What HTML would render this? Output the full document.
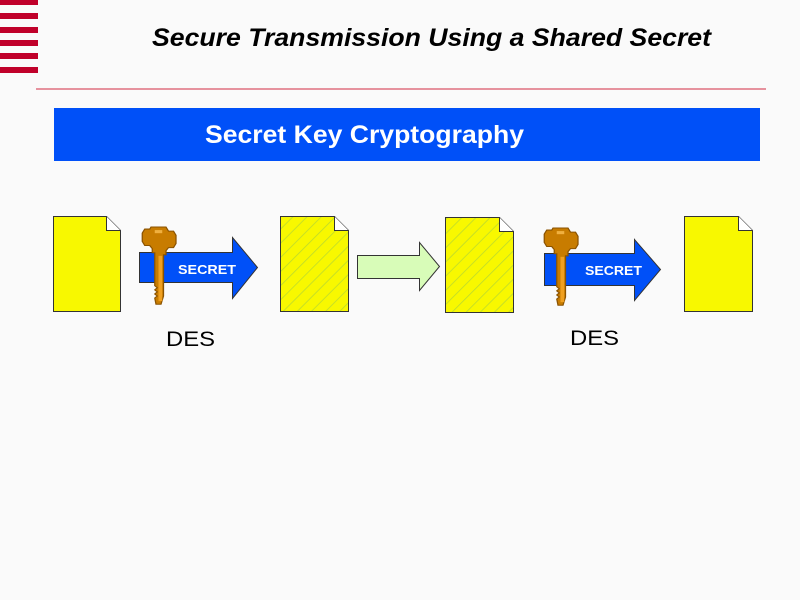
<!DOCTYPE html>
<html><head><style>
body{margin:0;width:800px;height:600px;background:#fafafa;position:relative;overflow:hidden;font-family:"Liberation Sans",sans-serif}
</style></head><body>
<svg width="800" height="600" style="position:absolute;left:0;top:0">
<defs>
<pattern id="h" width="10" height="10" patternUnits="userSpaceOnUse" patternTransform="rotate(45)">
<rect width="10" height="10" fill="#f8f800"/><line x1="0" y1="0" x2="0" y2="10" stroke="#b8d830" stroke-width="1.5"/>
</pattern>
<g id="key">
<path d="M8 0h12l2 4h4l2 4v8l-2 4h-4l-2 3v4h-2v40l-2 8h-4l-1-6 2-2-2-2 2-2-2-2 2-2-2-2v-32h-2v-4l-2-3h-4l-2-4v-8l2-4h4z" fill="#c87c00" stroke="#8a5200" stroke-width="1"/>
<rect x="11" y="3" width="6" height="3" fill="#f0b040"/>
<rect x="14" y="28" width="3" height="44" fill="#f0a020"/>
</g>
</defs>
<g fill="#c0002a">
<rect x="0" y="0" width="38" height="5"/><rect x="0" y="13" width="38" height="6"/><rect x="0" y="27" width="38" height="6"/><rect x="0" y="40" width="38" height="6"/><rect x="0" y="53" width="38" height="6"/><rect x="0" y="67" width="38" height="6"/>
</g>
<text x="152" y="46" textLength="559" lengthAdjust="spacingAndGlyphs" font-size="25" font-weight="bold" font-style="italic" fill="#000">Secure Transmission Using a Shared Secret</text>
<line x1="36" y1="89" x2="766" y2="89" stroke="#e07080" stroke-width="1.5"/>
<rect x="54" y="108" width="706" height="53" fill="#0050f8"/>
<text x="205" y="143" textLength="319" lengthAdjust="spacingAndGlyphs" font-size="25" font-weight="bold" fill="#fff">Secret Key Cryptography</text>
<g stroke="#333" stroke-width="1">
<path d="M53.5 216.5h53l14 14v81h-67z" fill="#f8f800"/><path d="M106.5 216.5v14h14" fill="#fff"/>
<path d="M280.5 216.5h54l14 14v81h-68z" fill="url(#h)"/><path d="M334.5 216.5v14h14" fill="#fff"/>
<path d="M445.5 217.5h54l14 14v81h-68z" fill="url(#h)"/><path d="M499.5 217.5v14h14" fill="#fff"/>
<path d="M684.5 216.5h54l14 14v81h-68z" fill="#f8f800"/><path d="M738.5 216.5v14h14" fill="#fff"/>
<path d="M357.5 255.5h62v-13l20 24-20 24v-12h-62z" fill="#d8fcb8"/>
<path d="M139.5 252.5h93v-15l25 30-25 31v-16h-93z" fill="#0050f8"/>
<path d="M544.5 253.5h90v-14l26 30-26 31v-15h-90z" fill="#0050f8"/>
</g>
<text x="178" y="274" textLength="58" lengthAdjust="spacingAndGlyphs" font-size="13" font-weight="bold" fill="#fff">SECRET</text>
<text x="585" y="275" textLength="57" lengthAdjust="spacingAndGlyphs" font-size="13" font-weight="bold" fill="#fff">SECRET</text>
<use href="#key" transform="translate(141 227) scale(1.25 1.03)"/>
<use href="#key" transform="translate(543 228) scale(1.25 1.03)"/>
<text x="166" y="346" textLength="49" lengthAdjust="spacingAndGlyphs" font-size="21">DES</text>
<text x="570" y="345" textLength="49" lengthAdjust="spacingAndGlyphs" font-size="21">DES</text>
</svg>
</body></html>
